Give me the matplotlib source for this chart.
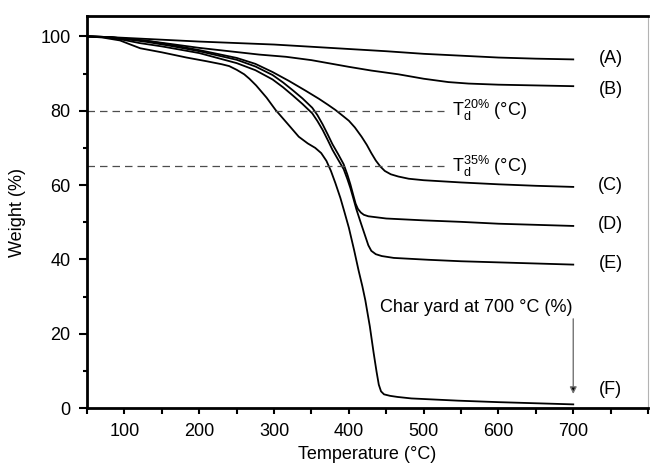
import matplotlib
matplotlib.use("Agg")
import matplotlib.pyplot as plt
from matplotlib.ticker import MultipleLocator

plt.rcParams['font.family'] = ['Liberation Sans', 'DejaVu Sans']
plt.rcParams['mathtext.fontset'] = 'custom'
plt.rcParams['mathtext.rm'] = 'Liberation Sans'

# ---- data ----
A_T = [50, 80, 100, 130, 160, 200, 250, 300, 350, 400, 450, 500, 550, 600, 650, 700]
A_W = [100, 99.8, 99.6, 99.3, 99.0, 98.6, 98.2, 97.8, 97.2, 96.6, 96.0, 95.3, 94.8, 94.3, 94.0, 93.8]

B_T = [50, 80, 100, 130, 160, 200, 240, 280, 316, 350, 400, 430, 466, 500, 533, 560, 600, 650, 700]
B_W = [100, 99.8, 99.4, 98.8, 98.0, 96.9, 96.0, 95.1, 94.5, 93.6, 91.8, 90.8, 89.8, 88.6, 87.7, 87.3, 87.0, 86.8, 86.6]

C_T = [50, 80, 100, 130, 160, 200, 250, 275, 298, 320, 342, 360, 372, 382, 392, 400, 408, 417, 424, 430, 436, 442, 448, 456, 466, 480, 500, 550, 600, 650, 700]
C_W = [100, 99.8, 99.4, 98.8, 97.8, 96.3, 94.2, 92.6, 90.4, 88.0, 85.4, 83.2, 81.6, 80.2, 78.6, 77.3, 75.5, 73.0, 70.8, 68.6, 66.6, 65.0, 63.8, 62.9, 62.3, 61.7, 61.3, 60.7, 60.2, 59.8, 59.5]

D_T = [50, 80, 100, 130, 160, 200, 250, 275, 298, 312, 325, 338, 351, 358, 365, 372, 378, 386, 393, 398, 402, 406, 409, 412, 416, 420, 426, 450, 500, 550, 600, 650, 700]
D_W = [100, 99.8, 99.3, 98.5, 97.5, 96.0, 93.7, 91.9, 89.6, 87.6, 85.5, 83.3, 80.8, 78.8, 76.3, 73.5, 71.0, 68.2, 65.6, 62.8, 60.2, 57.2, 55.0, 53.6, 52.6, 52.0, 51.6, 51.0, 50.5, 50.1, 49.6, 49.3, 49.0]

E_T = [50, 80, 100, 120, 150, 200, 250, 275, 298, 312, 325, 338, 351, 358, 365, 372, 378, 386, 393, 398, 402, 406, 410, 416, 422, 426, 430, 436, 444, 460, 506, 550, 600, 650, 700]
E_W = [100, 99.7, 99.0, 98.2, 97.3, 95.5, 92.8, 90.9, 88.4, 86.3, 84.1, 81.8, 79.3, 77.2, 74.8, 72.0, 69.5, 66.7, 64.3, 61.6, 59.2, 56.4, 53.5, 49.8, 46.2, 43.8, 42.3, 41.4, 40.9, 40.4, 39.9, 39.5, 39.2, 38.9, 38.6]

F_T = [50, 70, 94, 108, 121, 150, 183, 210, 230, 240, 250, 260, 267, 276, 290, 302, 318, 333, 345, 355, 363, 370, 376, 382, 388.7, 394, 400, 407, 413, 418, 422, 428, 433, 437, 440, 443, 447, 455, 465, 483.5, 546, 600, 650, 700]
F_W = [100, 99.7, 98.9, 97.8, 96.8, 95.7, 94.3, 93.3, 92.5, 92.0, 91.0, 89.8, 88.6, 86.8, 83.5, 80.2, 76.5, 73.0, 71.2, 70.0, 68.6, 66.5, 63.8, 60.5, 56.5, 52.8, 48.5, 42.5, 37.0, 32.8, 29.0, 22.0, 15.0, 9.8, 6.3, 4.5, 3.7, 3.3, 3.0, 2.6, 2.0, 1.6, 1.3, 1.0]

series_labels = ['(A)', '(B)', '(C)', '(D)', '(E)', '(F)']
label_y = [94, 85.7, 59.8, 49.3, 38.8, 5]
ref_levels = [80, 65]
ref_texts = [r'$\mathregular{T_d^{20\%}}$ (°C)', r'$\mathregular{T_d^{35\%}}$ (°C)']

fig = plt.figure(figsize=(6.5, 4.68), dpi=100)
ax = fig.add_axes([0.134, 0.128, 0.863, 0.838])

for T, W in [(A_T, A_W), (B_T, B_W), (C_T, C_W), (D_T, D_W), (E_T, E_W), (F_T, F_W)]:
    ax.plot(T, W, color='black', lw=1.3, solid_joinstyle='round')

for lbl, y in zip(series_labels, label_y):
    ax.text(750, y, lbl, ha='center', va='center', fontsize=13)

for lvl, txt in zip(ref_levels, ref_texts):
    ax.plot([50, 527], [lvl, lvl], color='0.3', lw=0.9, dashes=(6, 4))
    ax.text(538, lvl, txt, ha='left', va='center', fontsize=13)

ax.text(441, 27, 'Char yard at 700 °C (%)', ha='left', va='center', fontsize=13)
ax.annotate('', xy=(700, 3.8), xytext=(700, 24),
            arrowprops=dict(arrowstyle='-|>', ec='0.45', fc='black', lw=1.0,
                            mutation_scale=10, shrinkA=0, shrinkB=0))

ax.set_xlim(50, 800)
ax.set_ylim(0, 105.5)
ax.xaxis.set_major_locator(MultipleLocator(100))
ax.xaxis.set_minor_locator(MultipleLocator(50))
ax.yaxis.set_major_locator(MultipleLocator(20))
ax.yaxis.set_minor_locator(MultipleLocator(10))
ax.set_xticks([100, 200, 300, 400, 500, 600, 700])

for s in ['left', 'top', 'bottom']:
    ax.spines[s].set_linewidth(2.0)
ax.spines['right'].set_linewidth(0.8)
ax.spines['right'].set_color('0.7')

ax.tick_params(axis='y', which='major', direction='out', length=6, width=1.5, labelsize=13, pad=6)
ax.tick_params(axis='y', which='minor', direction='out', length=3, width=1.5)
ax.tick_params(axis='x', which='major', direction='out', length=4, width=1.5, labelsize=13, pad=7)
ax.tick_params(axis='x', which='minor', direction='out', length=4, width=1.5)
ax.tick_params(top=False, right=False, which='both')

ax.set_xlabel('Temperature (°C)', fontsize=13, labelpad=4)
ax.set_ylabel('Weight (%)', fontsize=13, labelpad=10)

fig.savefig('out.png', dpi=100)
